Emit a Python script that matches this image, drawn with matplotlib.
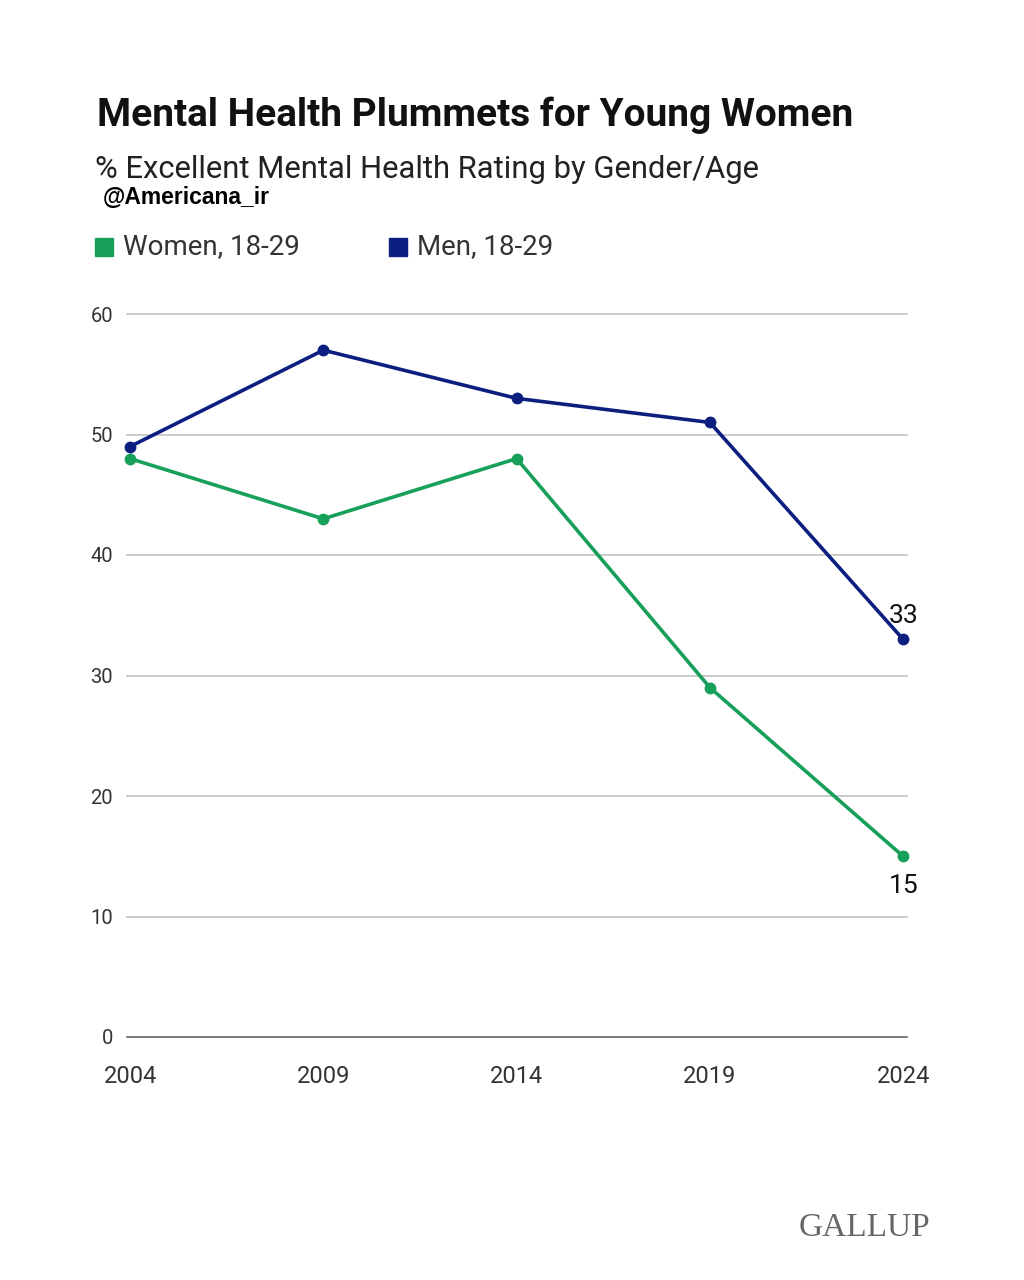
import matplotlib
matplotlib.use('Agg')
import matplotlib.pyplot as plt

years = [2004, 2009, 2014, 2019, 2024]
women = [48, 43, 48, 29, 15]
men = [49, 57, 53, 51, 33]
yticks = [0, 10, 20, 30, 40, 50, 60]

green = '#17a05a'
navy = '#0c1f80'

plt.rcParams['font.family'] = ['Roboto', 'DejaVu Sans']

fig = plt.figure(figsize=(10.24, 12.8), dpi=100)
fig.patch.set_facecolor('white')

ax = fig.add_axes([127/1024, 1 - 1037/1280, (907-127)/1024, (1037-314)/1280])
ax.set_xlim(2003.92, 2024.1)
ax.set_ylim(0, 60)

for t in yticks:
    ax.axhline(t, color='#555555' if t == 0 else '#bdbdbd', lw=1.1, zorder=1, clip_on=False)

ax.plot(years, women, color=green, lw=2.6, marker='o', ms=7.5, clip_on=False, zorder=3)
ax.plot(years, men, color=navy, lw=2.6, marker='o', ms=7.5, clip_on=False, zorder=3)

ax.annotate(str(men[-1]), (years[-1], men[-1]), xytext=(0, 8), textcoords='offset points',
            ha='center', va='bottom', fontsize=19, color='#111111')
ax.annotate(str(women[-1]), (years[-1], women[-1]), xytext=(0, -13), textcoords='offset points',
            ha='center', va='top', fontsize=19, color='#111111')

ax.set_yticks(yticks)
ax.set_xticks(years)
ax.set_xticklabels([str(y) for y in years])
ax.tick_params(axis='y', length=0, labelsize=14.5, colors='#333333', pad=10)
ax.tick_params(axis='x', length=0, labelsize=17, colors='#333333', pad=20)
for s in ax.spines.values():
    s.set_visible(False)

fig.text(97/1024, 1 - 115/1280, 'Mental Health Plummets for Young Women', fontsize=28,
         fontweight='bold', color='#111111', va='center', ha='left')
fig.text(95/1024, 1 - 170/1280, '% Excellent Mental Health Rating by Gender/Age', fontsize=22.3,
         color='#222222', va='center', ha='left')
fig.text(103/1024, 1 - 197/1280, '@Americana_ir', fontsize=16.5, fontweight='bold',
         family='Liberation Sans', color='black', va='center', ha='left')

# legend
fig.patches.append(plt.Rectangle((95/1024, 1 - 256/1280), 18/1024, 18/1280,
                                 transform=fig.transFigure, color=green))
fig.text(123/1024, 1 - 247/1280, 'Women, 18-29', fontsize=20, color='#333333', va='center')
fig.patches.append(plt.Rectangle((389/1024, 1 - 256/1280), 18/1024, 18/1280,
                                 transform=fig.transFigure, color=navy))
fig.text(417/1024, 1 - 247/1280, 'Men, 18-29', fontsize=20, color='#333333', va='center')

fig.text(930/1024, 1 - 1228/1280, 'GALLUP', fontsize=24, family='Liberation Serif',
         color='#666666', va='center', ha='right')

fig.savefig('out.png', dpi=100, facecolor='white')
